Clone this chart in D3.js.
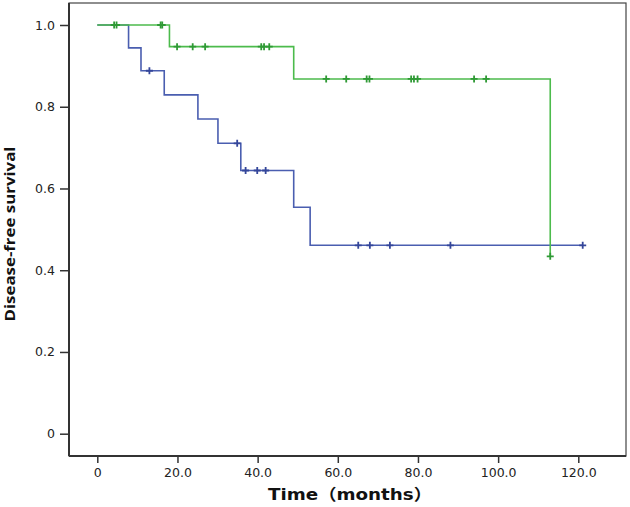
<!DOCTYPE html>
<html><head><meta charset="utf-8">
<script src="https://cdn.jsdelivr.net/npm/d3@7/dist/d3.min.js"></script>
<style>body{margin:0;background:#fff}svg{display:block}</style>
</head><body><svg id="c" width="630" height="507"></svg>
<script>
// Group A (green)
const greenTimes = [0, 18.0, 49.0, 113.0];
const greenSurv  = [1.0, 0.947, 0.868, 0.434];
const greenEnd   = 113.0;
const greenCensor = [4.2, 4.8, 15.8, 16.2, 19.9, 23.8, 26.9, 40.9, 41.6, 42.9, 57.1, 62.1, 67.2, 67.9, 78.3, 79.0, 79.9, 94.0, 97.0, 113.0];
// Group B (blue)
const blueTimes = [0, 7.8, 10.9, 16.7, 25.1, 30.1, 35.8, 49.0, 53.1];
const blueSurv  = [1.0, 0.944, 0.888, 0.829, 0.770, 0.7105, 0.644, 0.554, 0.461];
const blueEnd   = 121.1;
const blueCensor = [13.0, 34.9, 37.0, 39.9, 42.0, 65.1, 68.0, 73.0, 88.1, 121.1];
const xTicks = [0, 20, 40, 60, 80, 100, 120];
const yTicks = [0, 0.2, 0.4, 0.6, 0.8, 1.0];

const svg = d3.select("#c");
const L = 69, R = 626, T = 3, B = 456;
const x = d3.scaleLinear().domain([0, 120]).range([97.3, 578.3]);
const y = d3.scaleLinear().domain([0, 1]).range([433.7, 25]);

// frame
svg.append("rect").attr("x", L).attr("y", T).attr("width", R - L).attr("height", B - T)
  .attr("fill", "none").attr("stroke", "#444").attr("stroke-width", 1.2);

const fmt = v => v === 0 ? "0" : d3.format(".1f")(v);
const gx = svg.append("g").attr("transform", `translate(0,${B})`)
  .call(d3.axisBottom(x).tickValues(xTicks).tickFormat(fmt).tickSize(7).tickSizeOuter(0).tickPadding(5));
const gy = svg.append("g").attr("transform", `translate(${L},0)`)
  .call(d3.axisLeft(y).tickValues(yTicks).tickFormat(fmt).tickSize(9).tickSizeOuter(0).tickPadding(5));
[gx, gy].forEach(g => {
  g.select(".domain").remove();
  g.selectAll(".tick line").attr("stroke", "#333").attr("stroke-width", 1.5);
  g.selectAll(".tick text").attr("fill", "#222").style("font-family", "DejaVu Sans").style("font-size", "12.5px");
});
// axis lines
svg.append("line").attr("x1", L).attr("x2", L).attr("y1", T).attr("y2", B).attr("stroke", "#333").attr("stroke-width", 2);
svg.append("line").attr("x1", L).attr("x2", R).attr("y1", B).attr("y2", B).attr("stroke", "#333").attr("stroke-width", 2);

function stepPath(times, surv, end) {
  const pts = [];
  for (let i = 0; i < times.length; i++) {
    if (i > 0) pts.push([times[i], surv[i - 1]]);
    pts.push([times[i], surv[i]]);
  }
  if (end > times[times.length - 1]) pts.push([end, surv[surv.length - 1]]);
  return d3.line().x(d => x(d[0])).y(d => y(d[1]))(pts);
}
function survAt(times, surv, t) {
  let s = surv[0];
  for (let i = 0; i < times.length; i++) if (times[i] <= t) s = surv[i];
  return s;
}
function drawGroup(times, surv, end, censor, color, mark) {
  svg.append("path").attr("d", stepPath(times, surv, end)).attr("fill", "none")
    .attr("stroke", color).attr("stroke-width", 1.6);
  svg.append("g").selectAll("path").data(censor).join("path")
    .attr("d", d => {
      const cx = x(d), cy = y(survAt(times, surv, d));
      return `M${cx},${cy - 3.5}V${cy + 3.5}M${cx - 3.5},${cy}H${cx + 3.5}`;
    })
    .attr("fill", "none").attr("stroke", mark).attr("stroke-width", 1.8);
}
drawGroup(blueTimes, blueSurv, blueEnd, blueCensor, "#4a5eb0", "#34469a");
drawGroup(greenTimes, greenSurv, greenEnd, greenCensor, "#4cbb4c", "#2f9a35");

// titles
svg.append("text").attr("x", 350).attr("y", 500).attr("text-anchor", "middle")
  .style("font-family", "DejaVu Sans, 'Noto Sans CJK SC'").style("font-weight", "bold").style("font-size", "16px")
  .attr("textLength", 164).attr("lengthAdjust", "spacingAndGlyphs")
  .attr("fill", "#111").text("Time（months）");
svg.append("text").attr("transform", "translate(15,234) rotate(-90)").attr("text-anchor", "middle")
  .style("font-family", "'Open Sans', sans-serif").style("font-weight", "bold").style("font-size", "15px")
  .attr("textLength", 175).attr("lengthAdjust", "spacingAndGlyphs")
  .attr("fill", "#111").text("Disease-free survival");
</script></body></html>
